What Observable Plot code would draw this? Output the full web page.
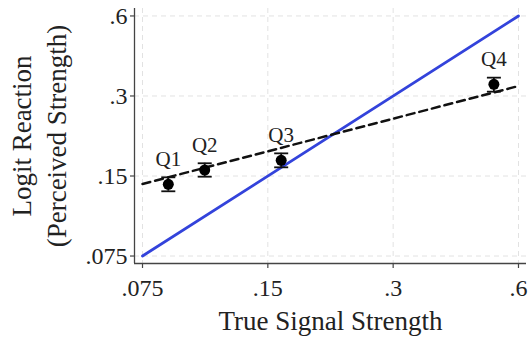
<!DOCTYPE html>
<html>
<head>
<meta charset="utf-8">
<script src="https://cdn.jsdelivr.net/npm/d3@7"></script>
<script src="https://cdn.jsdelivr.net/npm/@observablehq/plot@0.6"></script>
<style>
  html, body { margin: 0; padding: 0; background: white; }
</style>
</head>
<body>
<div id="chart"></div>
<script>
const tickValues = [0.075, 0.15, 0.3, 0.6];
const tickLabels = [".075", ".15", ".3", ".6"];
const quartiles = ["Q1", "Q2", "Q3", "Q4"];
const signal = [0.0865, 0.1058, 0.1615, 0.5237];
const perceived = [0.1396, 0.158, 0.1718, 0.332];
const ciLow = [0.1314, 0.1491, 0.1617, 0.3114];
const ciHigh = [0.1483, 0.1675, 0.1825, 0.3516];
const fitX = [0.075, 0.6];
const fitY = [0.140, 0.327];
const identityX = [0.075, 0.6];
const identityY = [0.075, 0.6];
const xDomain = [0.07175, 0.6272];
const yDomain = [0.0703, 0.640];

const W = 530, H = 337, ML = 134, MR = 4, MT = 8, MB = 74;
const points = quartiles.map((q, i) => ({q, x: signal[i], y: perceived[i], lo: ciLow[i], hi: ciHigh[i]}));
const fit = fitX.map((x, i) => ({x, y: fitY[i]}));
const ident = identityX.map((x, i) => ({x, y: identityY[i]}));
const ticks = tickValues.map((v, i) => ({v, label: tickLabels[i]}));

const capSymbol = {
  draw(context, size) {
    const w = Math.sqrt(size / Math.PI);
    context.moveTo(-w, 0);
    context.lineTo(w, 0);
  }
};

const chart = Plot.plot({
  width: W,
  height: H,
  marginLeft: ML,
  marginRight: MR,
  marginTop: MT,
  marginBottom: MB,
  x: {type: "log", domain: xDomain, axis: null},
  y: {type: "log", domain: yDomain, axis: null},
  style: {fontFamily: "'Liberation Serif', serif", fontSize: "24px", color: "#222", background: "white"},
  marks: [
    Plot.gridX(tickValues, {stroke: "#e2e2e2", strokeOpacity: 1, strokeDasharray: "5,4"}),
    Plot.gridY(tickValues, {stroke: "#e2e2e2", strokeOpacity: 1, strokeDasharray: "5,4"}),
    Plot.line(ident, {x: "x", y: "y", stroke: "#3343db", strokeWidth: 2.8}),
    Plot.line(fit, {x: "x", y: "y", stroke: "#111", strokeWidth: 2.5, strokeDasharray: "8,5"}),
    Plot.ruleX(points, {x: "x", y1: "lo", y2: "hi", stroke: "#111", strokeWidth: 1.8}),
    Plot.dot(points, {x: "x", y: "lo", r: 7, symbol: capSymbol, stroke: "#111", strokeWidth: 1.8, fill: "none"}),
    Plot.dot(points, {x: "x", y: "hi", r: 7, symbol: capSymbol, stroke: "#111", strokeWidth: 1.8, fill: "none"}),
    Plot.dot(points, {x: "x", y: "y", r: 5.5, fill: "#000", stroke: "none"}),
    Plot.text(points, {x: "x", y: "y", text: "q", dy: -25, fontSize: 21, fill: "#222"}),
    Plot.ruleX([xDomain[0]], {stroke: "#444", strokeWidth: 1.3}),
    Plot.ruleY([yDomain[0]], {stroke: "#444", strokeWidth: 1.3}),
    // x ticks and labels
    Plot.tickX(ticks, {x: "v", insetTop: H - MT - MB, insetBottom: -5, stroke: "#444", strokeWidth: 1.2}),
    Plot.text(ticks, {x: "v", text: "label", frameAnchor: "bottom", lineAnchor: "top", dy: 15, fontSize: 24, fill: "#222"}),
    // y ticks and labels
    Plot.tickY(ticks, {y: "v", insetRight: W - ML - MR, insetLeft: -4, stroke: "#444", strokeWidth: 1.2}),
    Plot.text(ticks, {y: "v", text: "label", frameAnchor: "left", textAnchor: "end", dx: -7, fontSize: 24, fill: "#222"}),
    // axis titles
    Plot.text(["True Signal Strength"], {frameAnchor: "bottom", dy: 66, fontSize: 27, fill: "#222"}),
    Plot.text(["Logit Reaction\n(Perceived Strength)"], {frameAnchor: "left", textAnchor: "middle", rotate: -90, dx: -97, fontSize: 27, lineHeight: 1.27, fill: "#222"})
  ]
});
document.getElementById("chart").appendChild(chart);
</script>
</body>
</html>
